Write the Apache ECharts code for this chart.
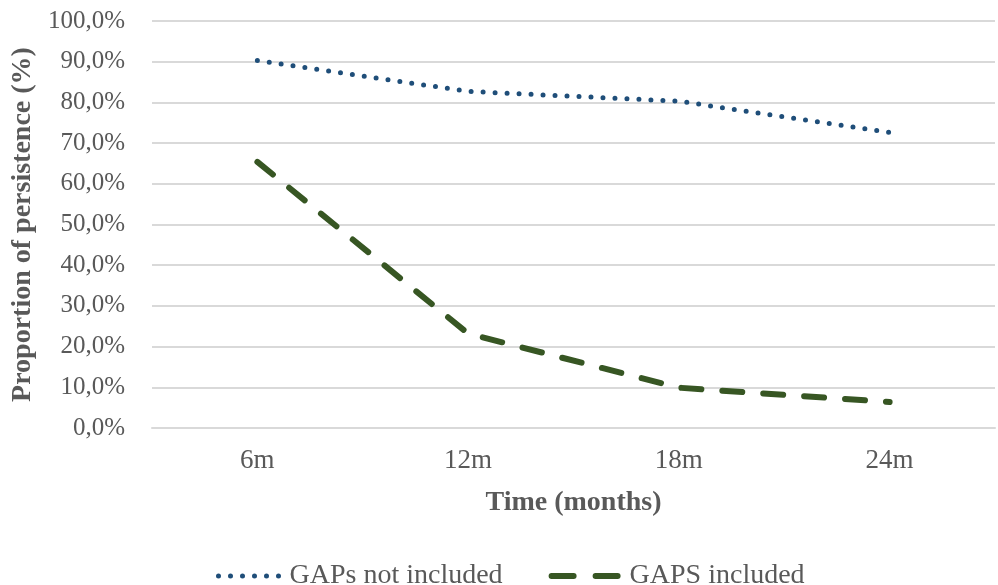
<!DOCTYPE html>
<html>
<head>
<meta charset="utf-8">
<script src="https://cdn.jsdelivr.net/npm/echarts@6/dist/echarts.min.js"></script>
<style>
  html, body { margin: 0; padding: 0; background: #fff; }
  #chart { width: 998px; height: 585px; }
</style>
</head>
<body>
<div id="chart"></div>
<script>
// Persistence over time, with and without gaps
const months = ['6m', '12m', '18m', '24m'];
const gapsNotIncluded = [90.3, 82.7, 80.3, 72.6];
const gapsIncluded = [65.4, 23.2, 9.9, 6.4];
const seriesNames = ['GAPs not included', 'GAPS included'];

const serif = '"Liberation Serif", "DejaVu Serif", serif';
const textGray = '#595959';
const blue = '#1f4e79';
const green = '#375623';

const dottedStyle = { color: blue, width: 5, type: [0, 12], cap: 'round' };
const dashedStyle = { color: green, width: 6, type: [20, 21], cap: 'round' };

const chart = echarts.init(document.getElementById('chart'));
chart.setOption({
  animation: false,
  grid: { left: 152, right: 3, top: 21, bottom: 157, outerBoundsMode: 'none', containLabel: false },
  legend: {
    top: 557,
    left: 211,
    itemWidth: 66,
    itemHeight: 14,
    itemGap: 46,
    itemStyle: { opacity: 0 },
    textStyle: { fontFamily: serif, fontSize: 28, color: textGray },
    data: [
      { name: seriesNames[0], lineStyle: { color: blue, width: 5, type: [0, 12], cap: 'round' } },
      {
        name: seriesNames[1],
        lineStyle: { color: green, width: 6, type: [22, 22], cap: 'round' },
        textStyle: { padding: [0, 0, 0, 7] }
      }
    ]
  },
  xAxis: {
    type: 'category',
    data: months,
    boundaryGap: true,
    axisLine: { show: true, lineStyle: { color: '#d9d9d9', width: 2 } },
    axisTick: { show: false },
    axisLabel: { fontFamily: serif, fontSize: 27, color: textGray, margin: 19 },
    name: 'Time (months)',
    nameLocation: 'middle',
    nameGap: 61,
    nameTextStyle: { fontFamily: serif, fontSize: 28, fontWeight: 'bold', color: textGray }
  },
  yAxis: {
    type: 'value',
    min: 0,
    max: 100,
    interval: 10,
    axisLine: { show: false },
    axisTick: { show: false },
    splitLine: { lineStyle: { color: '#d9d9d9', width: 2 } },
    axisLabel: {
      fontFamily: serif, fontSize: 25, color: textGray, margin: 27,
      formatter: v => v.toFixed(1).replace('.', ',') + '%'
    },
    name: 'Proportion of persistence (%)',
    nameLocation: 'middle',
    nameGap: 113,
    nameTextStyle: { fontFamily: serif, fontSize: 28, fontWeight: 'bold', color: textGray }
  },
  series: [
    {
      name: seriesNames[0],
      type: 'line',
      data: gapsNotIncluded,
      symbol: 'none',
      color: blue,
      lineStyle: dottedStyle
    },
    {
      name: seriesNames[1],
      type: 'line',
      data: gapsIncluded,
      symbol: 'none',
      color: green,
      lineStyle: dashedStyle
    }
  ]
});
</script>
</body>
</html>
